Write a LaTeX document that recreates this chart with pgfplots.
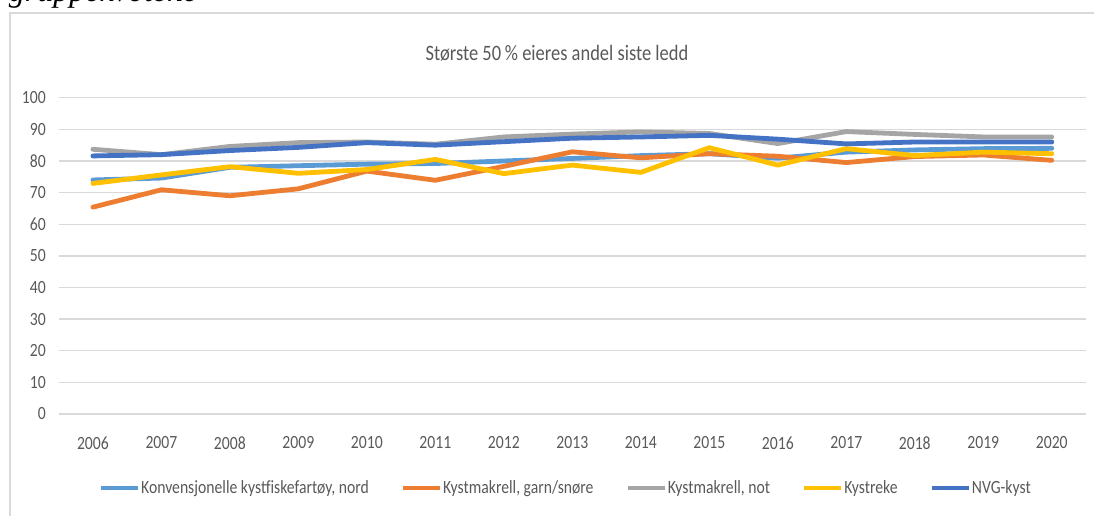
\documentclass[border=0pt]{standalone}
\usepackage{pgfplots}
\pgfplotsset{compat=1.18}
\usepackage{fontspec}
\newfontfamily\calib[FakeStretch=0.84]{Carlito}
\newfontfamily\serifit[FakeStretch=1.0]{Liberation Serif}
\definecolor{cA}{HTML}{5B9BD5}
\definecolor{cB}{HTML}{ED7D31}
\definecolor{cC}{HTML}{A5A5A5}
\definecolor{cD}{HTML}{FFC000}
\definecolor{cE}{HTML}{4472C4}
\definecolor{gridgray}{HTML}{D9D9D9}
\definecolor{textgray}{HTML}{595959}
\begin{document}
\begin{tikzpicture}
\useasboundingbox (0,0) rectangle (820.5pt,-387pt);
\clip (0,0) rectangle (820.5pt,-387pt);
\node[anchor=base west, inner sep=0pt] at (6.5pt,-1.2pt) {\serifit\itshape\fontsize{24}{26}\selectfont gruppekvotene};
\draw[gridgray, line width=1.3pt] (7.7pt,-400pt) -- (7.7pt,-9.75pt) -- (840pt,-9.75pt);
\node[anchor=base, inner sep=0pt, text=textgray] at (417.75pt,-45.4pt) {\calib\fontsize{16.5}{18}\selectfont Største 50\,\% eieres andel siste ledd};
\begin{axis}[
  at={(44.0pt,-310.5pt)}, anchor=south west,
  scale only axis, width=770.5pt, height=237.2pt,
  xmin=2005.5, xmax=2020.5, ymin=0, ymax=100,
  xtick={2006,2007,2008,2009,2010,2011,2012,2013,2014,2015,2016,2017,2018,2019,2020},
  xticklabels={2006,2007,2008,2009,2010,2011,2012,2013,2014,2015,2016,2017,2018,2019,2020},
  ytick={0,10,20,30,40,50,60,70,80,90,100},
  axis line style={draw=none}, major tick length=0pt,
  ymajorgrids, grid style={color=gridgray, line width=1.1pt},
  /pgf/number format/assume math mode=true,
  ticklabel style={font=\calib\fontsize{14}{16}\selectfont, text=textgray},
  xticklabel style={yshift=-13.3pt},
  yticklabel style={xshift=-6.1pt},
  legend columns=5,
  legend image code/.code={\draw[#1, line width=3pt, line cap=butt] (0pt,0pt) -- (27.75pt,0pt);},
  legend style={at={(0.4933,-0.234)}, anchor=center, draw=none, fill=none,
    font=\calib\fontsize{14}{16}\selectfont, text=textgray, inner sep=0pt,
    nodes={inner sep=1pt},
    /tikz/every even column/.append style={column sep=23pt}},
  every axis plot/.append style={line width=3.6pt, line cap=round, line join=round},
]
\addplot[cA] coordinates {(2006,74.0)(2007,74.6)(2008,78.0)(2009,78.5)(2010,79.0)(2011,79.2)(2012,80.0)(2013,80.8)(2014,81.7)(2015,82.3)(2016,80.9)(2017,82.8)(2018,83.5)(2019,83.9)(2020,84.0)};
\addlegendentry{Konvensjonelle kystfiskefartøy, nord}
\addplot[cB] coordinates {(2006,65.4)(2007,70.9)(2008,69.0)(2009,71.2)(2010,76.8)(2011,73.9)(2012,78.3)(2013,82.9)(2014,81.0)(2015,82.3)(2016,81.5)(2017,79.5)(2018,81.4)(2019,81.9)(2020,80.2)};
\addlegendentry{Kystmakrell, garn/snøre}
\addplot[cC] coordinates {(2006,83.7)(2007,82.0)(2008,84.6)(2009,85.8)(2010,86.0)(2011,85.3)(2012,87.6)(2013,88.5)(2014,89.2)(2015,88.7)(2016,85.5)(2017,89.3)(2018,88.4)(2019,87.6)(2020,87.6)};
\addlegendentry{Kystmakrell, not}
\addplot[cD] coordinates {(2006,72.9)(2007,75.6)(2008,78.2)(2009,76.1)(2010,77.3)(2011,80.5)(2012,76.0)(2013,78.7)(2014,76.4)(2015,84.2)(2016,78.7)(2017,83.9)(2018,81.7)(2019,82.8)(2020,82.3)};
\addlegendentry{Kystreke}
\addplot[cE] coordinates {(2006,81.6)(2007,82.0)(2008,83.3)(2009,84.3)(2010,85.8)(2011,85.0)(2012,86.1)(2013,87.2)(2014,87.6)(2015,88.1)(2016,86.9)(2017,85.4)(2018,86.0)(2019,86.0)(2020,86.0)};
\addlegendentry{NVG-kyst}
\end{axis}
\end{tikzpicture}
\end{document}
